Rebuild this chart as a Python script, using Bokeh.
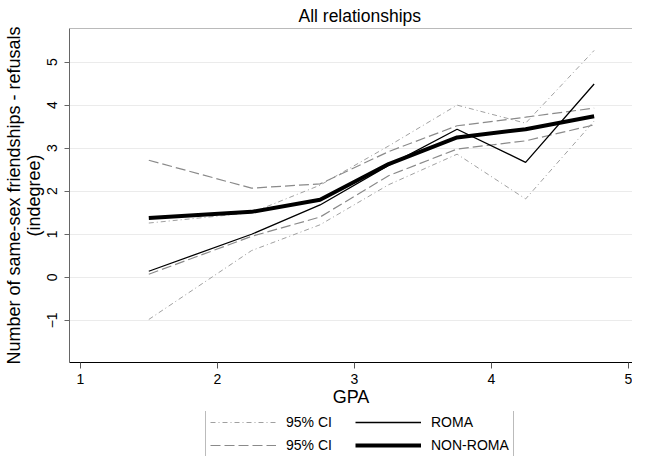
from bokeh.plotting import figure
from bokeh.models import Range1d, Span, Legend, LegendItem, FixedTicker, Title
from bokeh.layouts import column
from bokeh.embed import file_html
from bokeh.resources import INLINE

gpa = [1.5, 2.25, 2.75, 3.25, 3.75, 4.25, 4.75]
roma = [0.14, 1.00, 1.68, 2.60, 3.44, 2.67, 4.49]
roma_lo = [-0.98, 0.62, 1.22, 2.15, 2.86, 1.82, 3.63]
roma_hi = [1.26, 1.50, 2.14, 3.05, 4.00, 3.58, 5.27]
nonroma = [1.38, 1.52, 1.80, 2.63, 3.25, 3.44, 3.74]
nonroma_lo = [0.07, 0.95, 1.40, 2.36, 2.98, 3.17, 3.54]
nonroma_hi = [2.72, 2.07, 2.17, 2.92, 3.52, 3.72, 3.93]
x_ticks = [1, 2, 3, 4, 5]
y_ticks = [-1, 0, 1, 2, 3, 4, 5]
legend_labels = ["95% CI", "ROMA", "95% CI", "NON-ROMA"]

FONT = "Liberation Sans"

CI_R = dict(line_color="#a0a0a0", line_width=1, line_dash="5 3 1 3")
CI_N = dict(line_color="#8a8a8a", line_width=1.2, line_dash="10 4")
M_R = dict(line_color="black", line_width=1.3)
M_N = dict(line_color="black", line_width=4)

p = figure(width=632, height=411, output_backend="svg", toolbar_location=None,
           x_range=Range1d(0.9214, 5.03), y_range=Range1d(-1.98, 5.78),
           min_border_left=69, min_border_right=0, min_border_top=28, min_border_bottom=49)
p.title = None
p.add_layout(Title(text="All relationships", align="left", text_font=FONT,
                   text_font_size="17.5px", text_font_style="normal", text_color="black",
                   standoff=5, offset=229), "above")

p.background_fill_color = "white"
p.border_fill_color = "white"
p.outline_line_color = None

p.xgrid.visible = False
p.ygrid.grid_line_color = "#ebebeb"
p.ygrid.ticker = FixedTicker(ticks=y_ticks)

p.xaxis.ticker = FixedTicker(ticks=x_ticks)
p.yaxis.ticker = FixedTicker(ticks=y_ticks)
p.xaxis.minor_tick_line_color = None
p.yaxis.minor_tick_line_color = None
p.xaxis.major_tick_in = 0
p.xaxis.major_tick_out = 6
p.yaxis.major_tick_in = 0
p.yaxis.major_tick_out = 5
p.xaxis.axis_line_color = "black"
p.xaxis.major_tick_line_color = "#555555"
p.yaxis.axis_line_color = "#666666"
p.yaxis.major_tick_line_color = "#666666"
p.xaxis.major_label_text_font = FONT
p.yaxis.major_label_text_font = FONT
p.xaxis.major_label_text_font_size = "14px"
p.yaxis.major_label_text_font_size = "14px"
p.xaxis.major_label_text_color = "black"
p.yaxis.major_label_text_color = "black"
p.yaxis.major_label_orientation = "vertical"
p.xaxis.major_label_standoff = 5
p.yaxis.major_label_standoff = 7
p.xaxis.axis_label = "GPA"
p.yaxis.axis_label = "Number of same-sex friendships - refusals\n(indegree)"
for ax in (p.xaxis, p.yaxis):
    ax.axis_label_text_font = FONT
    ax.axis_label_text_font_size = "18px"
    ax.axis_label_text_font_style = "normal"
    ax.axis_label_text_color = "black"
p.xaxis.axis_label_standoff = 0
p.yaxis.axis_label_standoff = 1
p.yaxis.axis_label_text_line_height = 0.98

p.add_layout(Span(location=5.78, dimension="width", line_color="#777777", line_width=1))

p.line(gpa, roma_lo, **CI_R)
p.line(gpa, roma_hi, **CI_R)
p.line(gpa, nonroma_lo, **CI_N)
p.line(gpa, nonroma_hi, **CI_N)
p.line(gpa, roma, **M_R)
p.line(gpa, nonroma, **M_N)

# legend panel below the chart
q = figure(width=632, height=45, output_backend="svg", toolbar_location=None,
           x_range=Range1d(0, 1), y_range=Range1d(0, 1),
           min_border_left=0, min_border_right=0, min_border_top=0, min_border_bottom=0)
q.axis.visible = False
q.grid.visible = False
q.outline_line_color = None
q.background_fill_color = "white"
q.border_fill_color = "white"
styles = [CI_R, M_R, CI_N, M_N]
rends = [q.line([5, 6], [5, 6], **s) for s in styles]

legend = Legend(items=[LegendItem(label=l, renderers=[r]) for l, r in zip(legend_labels, rends)],
                orientation="horizontal", ncols=2, location=(136, -4))
legend.label_text_font = FONT
legend.label_text_font_size = "14px"
legend.label_text_color = "black"
legend.glyph_width = 66
legend.glyph_height = 20
legend.label_height = 20
legend.label_standoff = 10
legend.label_width = 66
legend.spacing = 3
legend.padding = 4
legend.margin = 0
legend.border_line_color = "#777777"
legend.border_line_width = 1
legend.background_fill_alpha = 1.0
q.add_layout(legend, "center")

layout = column(p, q, spacing=0)
open("out.html", "w").write(file_html(layout, INLINE))
